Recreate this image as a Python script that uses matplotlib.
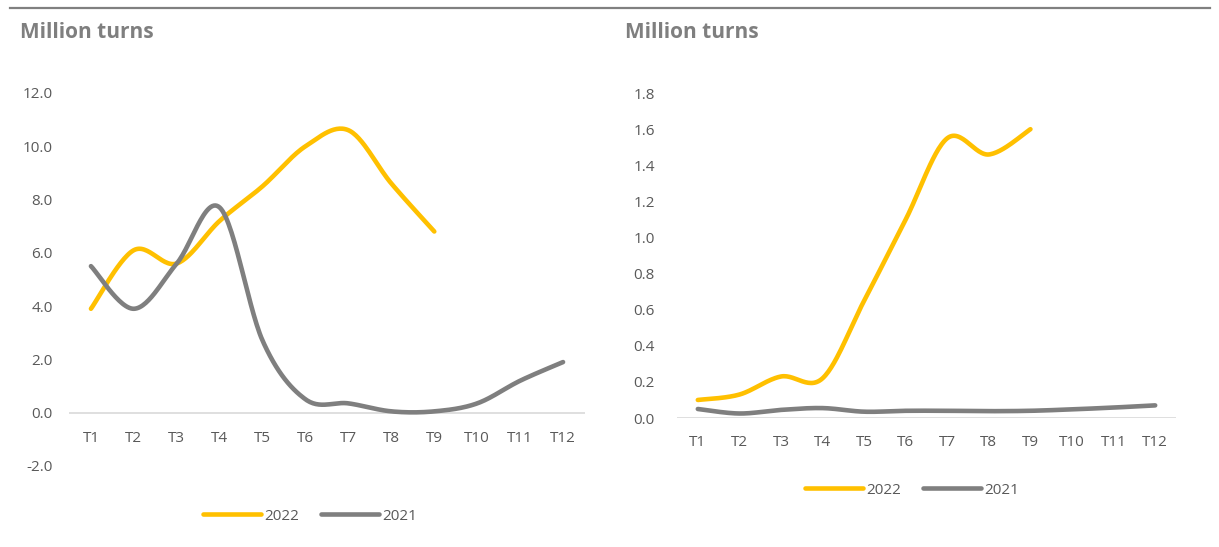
import numpy as np
import matplotlib.pyplot as plt
from matplotlib.lines import Line2D

plt.rcParams['font.family'] = ['Open Sans', 'DejaVu Sans']

months = ["T1", "T2", "T3", "T4", "T5", "T6", "T7", "T8", "T9", "T10", "T11", "T12"]

# left chart (million turns)
left_2022 = [3.9, 6.1, 5.6, 7.2, 8.5, 10.0, 10.6, 8.6, 6.8]
left_2021 = [5.5, 3.9, 5.6, 7.7, 2.7, 0.5, 0.35, 0.05, 0.05, 0.35, 1.2, 1.9]

# right chart (million turns)
right_2022 = [0.10, 0.13, 0.23, 0.22, 0.65, 1.10, 1.55, 1.46, 1.60]
right_2021 = [0.05, 0.025, 0.045, 0.055, 0.035, 0.04, 0.04, 0.038, 0.04, 0.048, 0.058, 0.07]

YELLOW = "#FFC000"
GREY = "#7F7F7F"
TXT = "#595959"


def smooth(ys, n=30):
    # catmull-rom curve through the points, like excel's smoothed line
    x = np.arange(len(ys), dtype=float)
    y = np.array(ys, dtype=float)
    px = np.concatenate([[x[0]], x, [x[-1]]])
    py = np.concatenate([[y[0]], y, [y[-1]]])
    xs, out = [], []
    t = np.linspace(0, 1, n)
    for i in range(1, len(px) - 2):
        for arr, res in ((px, xs), (py, out)):
            p0, p1, p2, p3 = arr[i - 1], arr[i], arr[i + 1], arr[i + 2]
            m1 = (p2 - p0) / 2
            m2 = (p3 - p1) / 2
            h00 = 2 * t**3 - 3 * t**2 + 1
            h10 = t**3 - 2 * t**2 + t
            h01 = -2 * t**3 + 3 * t**2
            h11 = t**3 - t**2
            res.extend(h00 * p1 + h10 * m1 + h01 * p2 + h11 * m2)
    return np.array(xs), np.array(out)


def draw(ax, s22, s21, ylo, yhi, step, fmt, ypad):
    for data, col in ((s22, YELLOW), (s21, GREY)):
        xs, ys = smooth(data)
        ax.plot(xs, ys, color=col, lw=3.3, solid_capstyle='round', zorder=3)
    ax.set_xlim(-0.5, len(months) - 0.5)
    ax.set_ylim(ylo, yhi)
    ax.set_xticks(range(len(months)))
    ax.set_xticklabels(months)
    ticks = np.arange(ylo, yhi + step / 2, step)
    ax.set_yticks(ticks)
    ax.set_yticklabels([fmt.format(v) for v in ticks])
    for s in ax.spines.values():
        s.set_visible(False)
    ax.axhline(0, color="#D9D9D9", lw=1.2, zorder=1)
    ax.tick_params(length=0, colors=TXT, labelsize=11)
    ax.tick_params(axis='y', pad=ypad)


fig = plt.figure(figsize=(12.19, 5.47), dpi=100)

ax1 = fig.add_axes([0.0570, 0.1481, 0.4225, 0.682])
draw(ax1, left_2022, left_2021, -2.0, 12.0, 2.0, "{:.1f}", 12)
ax1.spines['bottom'].set_position(('data', 0))
ax1.tick_params(axis='x', pad=13)

ax2 = fig.add_axes([0.5554, 0.2358, 0.4093, 0.594])
draw(ax2, right_2022, right_2021, 0.0, 1.8, 0.2, "{:.1f}", 16)
ax2.tick_params(axis='x', pad=12)

fig.add_artist(Line2D([10 / 1219, 1210 / 1219], [1 - 8 / 547, 1 - 8 / 547],
                      color="#808080", lw=1.6))
fig.text(20 / 1219, 1 - 33 / 547, "Million turns", fontsize=15, fontweight='bold',
         color="#7F7F7F", va='center')
fig.text(625 / 1219, 1 - 33 / 547, "Million turns", fontsize=15, fontweight='bold',
         color="#7F7F7F", va='center')

handles = [Line2D([], [], color=YELLOW, lw=3.3, solid_capstyle='round'),
           Line2D([], [], color=GREY, lw=3.3, solid_capstyle='round')]
for cx, cy in ((310 / 1219, 1 - 516 / 547), (912 / 1219, 1 - 490 / 547)):
    fig.legend(handles, ["2022", "2021"], loc='center', bbox_to_anchor=(cx, cy),
               ncol=2, frameon=False, fontsize=11, handlelength=3.8,
               handletextpad=0.2, columnspacing=1.4, labelcolor=TXT)

fig.savefig("out.png", dpi=100)
